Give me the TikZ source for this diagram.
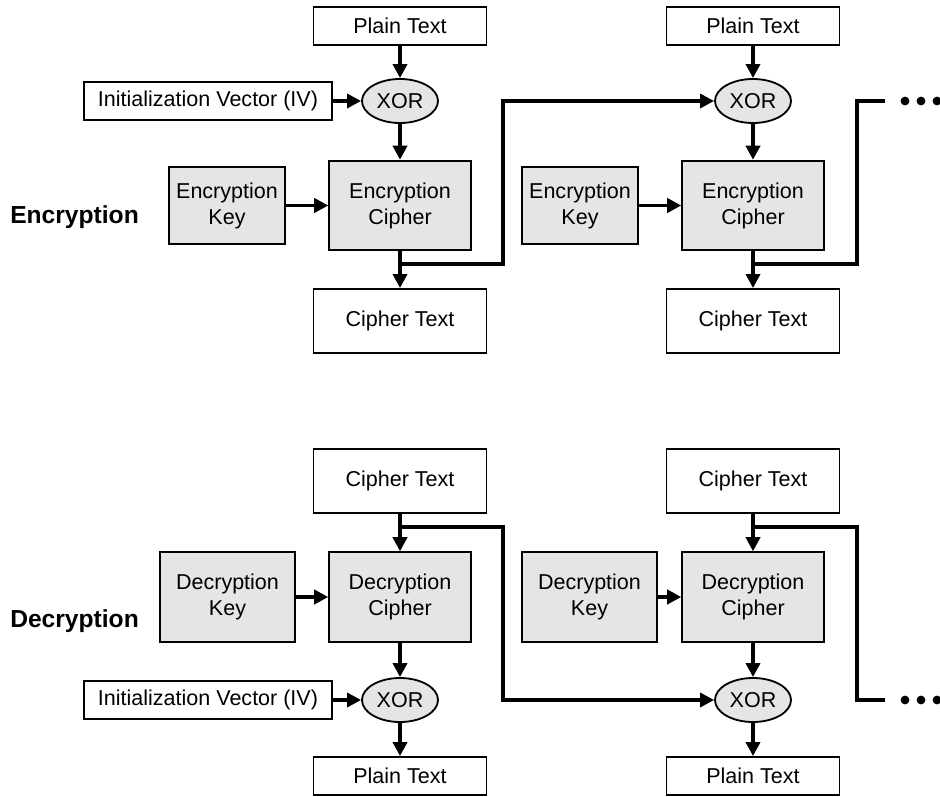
\documentclass[tikz,border=0pt]{standalone}
\usepackage{fontspec}
\setmainfont{Liberation Sans}
\usetikzlibrary{arrows.meta,shapes.geometric}

\begin{document}
\begin{tikzpicture}[
    x=0.025cm, y=-0.025cm,
    every node/.style={font=\fontsize{15.3}{18.4}\selectfont, inner sep=0pt},
    txtbox/.style={draw, line width=1.3pt, minimum width=4.325cm, minimum height=0.95cm},
    ivbox/.style={txtbox, minimum width=6.2cm},
    ekey/.style={draw, line width=1.3pt, fill=gray!20, align=center, minimum width=2.9cm, minimum height=1.925cm},
    dkey/.style={ekey, minimum width=3.375cm, minimum height=2.25cm},
    cipher/.style={ekey, minimum width=3.54cm, minimum height=2.24cm},
    xornode/.style={draw, line width=1.3pt, fill=gray!20, ellipse, minimum width=1.9cm, minimum height=1.1cm},
    wire/.style={line width=2.5pt, -{Triangle[length=10pt,width=10pt]}},
    link/.style={line width=2.5pt},
    sidelabel/.style={anchor=west, font=\fontsize{17.5}{21}\selectfont\bfseries}
  ]
  \useasboundingbox (0,0) rectangle (940,796);

  % encryption, first block
  \node[sidelabel] (encLabel) at (10,217) {Encryption};
  \node[txtbox] (P1) at (400,26) {Plain Text};
  \node[xornode] (X1) at (400,101) {XOR};
  \node[ivbox] (IV1) at (208,101) {Initialization Vector (IV)};
  \node[ekey] (K1) at (227,205.5) {Encryption\\Key};
  \node[cipher] (C1) at (400,205.5) {Encryption\\Cipher};
  \node[txtbox, minimum height=1.6cm] (T1) at (400,321) {Cipher Text};
  \coordinate (J1) at (400,264);

  % encryption, second block
  \node[txtbox] (P2) at (753,26) {Plain Text};
  \node[xornode] (X2) at (753,101) {XOR};
  \node[ekey] (K2) at (580,205.5) {Encryption\\Key};
  \node[cipher] (C2) at (753,205.5) {Encryption\\Cipher};
  \node[txtbox, minimum height=1.6cm] (T2) at (753,321) {Cipher Text};
  \coordinate (J2) at (753,264);
  \coordinate (encMore) at (885,101);

  \draw[wire] (P1) -- (X1);
  \draw[wire] (IV1) -- (X1);
  \draw[wire] (X1) -- (C1);
  \draw[wire] (K1) -- (C1);
  \draw[wire] (C1) -- (T1);
  \draw[wire] (J1) -- ++(103,0) |- (X2.west);
  \draw[wire] (P2) -- (X2);
  \draw[wire] (X2) -- (C2);
  \draw[wire] (K2) -- (C2);
  \draw[wire] (C2) -- (T2);
  \draw[link] (J2) -- ++(104,0) |- (encMore);

  % decryption, first block
  \node[sidelabel] (decLabel) at (10,621) {Decryption};
  \node[txtbox, minimum height=1.6cm] (DT1) at (400,481) {Cipher Text};
  \node[dkey] (DK1) at (227.5,597) {Decryption\\Key};
  \node[cipher] (DC1) at (400,597) {Decryption\\Cipher};
  \node[xornode] (DX1) at (400,700) {XOR};
  \node[ivbox] (DIV1) at (208,700) {Initialization Vector (IV)};
  \node[txtbox] (DP1) at (400,776) {Plain Text};
  \coordinate (DJ1) at (400,527);

  % decryption, second block
  \node[txtbox, minimum height=1.6cm] (DT2) at (753,481) {Cipher Text};
  \node[dkey] (DK2) at (589.5,597) {Decryption\\Key};
  \node[cipher] (DC2) at (753,597) {Decryption\\Cipher};
  \node[xornode] (DX2) at (753,700) {XOR};
  \node[txtbox] (DP2) at (753,776) {Plain Text};
  \coordinate (DJ2) at (753,527);
  \coordinate (decMore) at (885,700);

  \draw[wire] (DT1) -- (DC1);
  \draw[wire] (DK1) -- (DC1);
  \draw[wire] (DC1) -- (DX1);
  \draw[wire] (DIV1) -- (DX1);
  \draw[wire] (DX1) -- (DP1);
  \draw[wire] (DJ1) -- ++(103,0) |- (DX2.west);
  \draw[wire] (DT2) -- (DC2);
  \draw[wire] (DK2) -- (DC2);
  \draw[wire] (DC2) -- (DX2);
  \draw[wire] (DX2) -- (DP2);
  \draw[link] (DJ2) -- ++(104,0) |- (decMore);

  % continuation dots
  \foreach \dx in {905,921,937} {
    \fill (\dx,101) circle (0.11cm);
    \fill (\dx,700) circle (0.11cm);
  }
\end{tikzpicture}
\end{document}
